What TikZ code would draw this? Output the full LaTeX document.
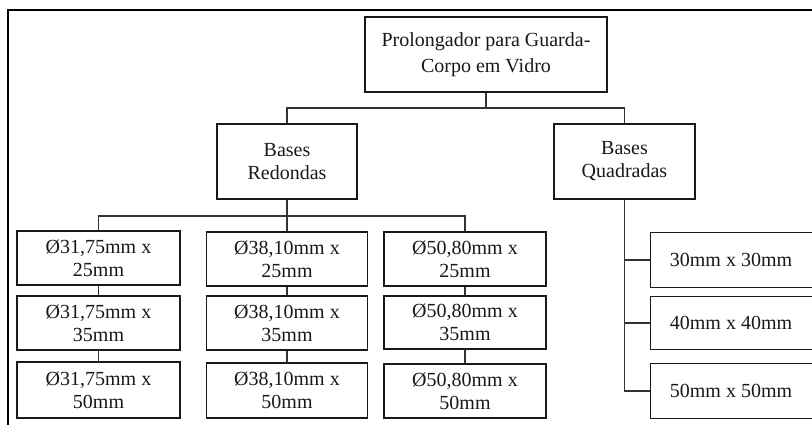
\documentclass[tikz,border=0pt]{standalone}
\usepackage{fontspec}
\setmainfont{Liberation Serif}
\begin{document}
\begin{tikzpicture}[x=1pt, y=-1pt,
  box/.style={draw=black!90, line width=1.2pt, fill=white, inner sep=0pt,
    align=center, font=\fontsize{20}{23}\selectfont, text=black!90},
  openbox/.style={box, draw=none},
  link/.style={draw=black!80, line width=1.1pt},
  frame/.style={draw=black, line width=1.8pt}]
  \useasboundingbox (0,0) rectangle (812,425);

  % outer frame (only top and left edges fall inside the page)
  \coordinate (fTL) at (8,10);
  \coordinate (fTR) at (830,10);
  \coordinate (fBL) at (8,440);
  \draw[frame] (fTR) -- (fTL) -- (fBL);

  % root and first level
  \node[box, minimum width=242, minimum height=75,
        font=\fontsize{20}{26}\selectfont] (top) at (486,54.5)
    {\raisebox{-2pt}{Prolongador para Guarda-}\\\raisebox{-2pt}{Corpo em Vidro}};
  \node[box, minimum width=140, minimum height=75] (red) at (287,161.5)
    {Bases\\Redondas};
  \node[box, minimum width=141, minimum height=75] (qua) at (624.5,161.5)
    {Bases\\Quadradas};

  % round bases: three columns of three
  \node[box, minimum width=163, minimum height=54] (a1) at (98.5,258)  {Ø31,75mm x\\25mm};
  \node[box, minimum width=163, minimum height=54] (a2) at (98.5,323)  {Ø31,75mm x\\35mm};
  \node[box, minimum width=163, minimum height=56] (a3) at (98.5,390)  {Ø31,75mm x\\50mm};
  \node[box, minimum width=161, minimum height=54] (b1) at (287,259)   {Ø38,10mm x\\25mm};
  \node[box, minimum width=161, minimum height=54] (b2) at (287,323)   {Ø38,10mm x\\35mm};
  \node[box, minimum width=161, minimum height=55] (b3) at (287,390.5) {Ø38,10mm x\\50mm};
  \node[box, minimum width=162, minimum height=54] (c1) at (465,259)   {Ø50,80mm x\\25mm};
  \node[box, minimum width=162, minimum height=53] (c2) at (465,322.5) {Ø50,80mm x\\35mm};
  \node[box, minimum width=162, minimum height=54] (c3) at (465,391)   {Ø50,80mm x\\50mm};

  % square bases: boxes run past the right edge of the page
  \node[openbox, minimum width=160, minimum height=54] (q1) at (731,260) {30mm x 30mm};
  \node[openbox, minimum width=160, minimum height=52] (q2) at (731,323) {40mm x 40mm};
  \node[openbox, minimum width=160, minimum height=54] (q3) at (731,391) {50mm x 50mm};
  \foreach \q in {q1,q2,q3}
    \draw[draw=black!90, line width=1.2pt]
      ([xshift=12pt]\q.north east) -- (\q.north west) -- (\q.south west)
      -- ([xshift=12pt]\q.south east);

  % connectors: root to first level
  \coordinate (bus1) at (486,108);
  \draw[link] (top.south) -- (bus1);
  \draw[link] (red.north) |- (bus1) -| (qua.north);

  % connectors: round bases
  \coordinate (bus2) at (287,216);
  \draw[link] (red.south) -- (b1.north);
  \draw[link] (a1.north) |- (bus2) -| (c1.north);
  \foreach \c in {a,b,c} {
    \draw[link] (\c1.south) -- (\c2.north);
    \draw[link] (\c2.south) -- (\c3.north);
  }

  % connectors: square bases
  \draw[link] (qua.south) |- (q3.west);
  \draw[link] (q1.west) -- (q1.west -| qua.south);
  \draw[link] (q2.west) -- (q2.west -| qua.south);
\end{tikzpicture}
\end{document}
